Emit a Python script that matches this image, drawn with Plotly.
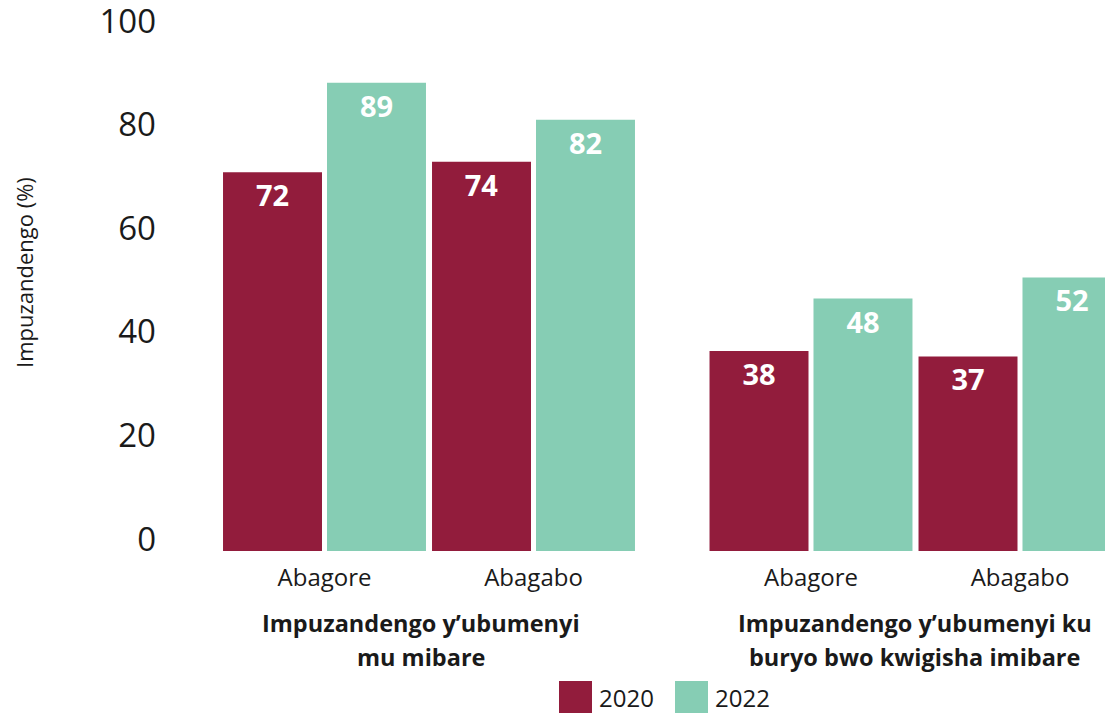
import plotly.graph_objects as go

# ── Data ──────────────────────────────────────────────────────────────────────
categories = ["Abagore", "Abagabo"]
group_titles = [
    ["Impuzandengo y’ubumenyi", "mu mibare"],
    ["Impuzandengo y’ubumenyi ku", "buryo bwo kwigisha imibare"],
]
years = ["2020", "2022"]
scores_2020 = [[72, 74], [38, 37]]
scores_2022 = [[89, 82], [48, 52]]
y_ticks = [0, 20, 40, 60, 80, 100]

# ── Style ─────────────────────────────────────────────────────────────────────
MAROON = "#921C3C"
MINT = "#86CDB4"
INK = "#1a1a1a"
FONT = "Open Sans"
# page body has an 8px margin, so the figure is drawn 8px in from the corner
PAD = 8
FW, FH = 1113 - PAD, 713 - PAD


def px(x):
    # screenshot x pixel -> paper coordinate
    return (x - PAD) / FW


def py(y):
    # screenshot y pixel -> paper coordinate
    return 1 - (y - PAD) / FH


fig = go.Figure()

axes = [("x", "y"), ("x2", "y2")]
for g, (xa, ya) in enumerate(axes):
    for year, vals, colour in [(years[0], scores_2020, MAROON), (years[1], scores_2022, MINT)]:
        fig.add_trace(go.Bar(
            x=categories,
            y=vals[g],
            name=year,
            marker_color=colour,
            marker_line_width=0,
            text=[str(v) for v in vals[g]],
            textposition="inside",
            insidetextanchor="end",
            textfont=dict(family=FONT, size=29, color="white", weight="bold"),
            xaxis=xa, yaxis=ya,
            showlegend=False,
            hovertemplate=year + " · %{x}: %{y}<extra></extra>",
        ))

# invisible helper so the tick-label axis (y3) gets drawn
fig.add_trace(go.Scatter(
    x=categories[:1], y=y_ticks[:1], xaxis="x", yaxis="y3",
    mode="markers", marker=dict(opacity=0), hoverinfo="skip", showlegend=False,
))

bar_dom = [py(551), py(25)]
noaxis = dict(showgrid=False, zeroline=False, showline=False, ticks="",
              automargin=False)

fig.update_layout(
    width=FW, height=FH,
    margin=dict(l=0, r=0, t=0, b=0),
    paper_bgcolor="white",
    plot_bgcolor="rgba(0,0,0,0)",
    barmode="group",
    bargap=0.005,
    bargroupgap=0.048,
    font=dict(family=FONT, color=INK),
    xaxis=dict(domain=[px(220), px(638)], range=[-0.5, 1.5],
               tickfont=dict(size=24, color=INK), ticklabelstandoff=10, **noaxis),
    xaxis2=dict(domain=[px(706.5), 1.0], range=[-0.5, 1.445], anchor="y2",
                tickfont=dict(size=24, color=INK), ticklabelstandoff=10, **noaxis),
    yaxis=dict(domain=bar_dom, range=[0, 100], showticklabels=False, **noaxis),
    yaxis2=dict(domain=bar_dom, range=[0, 100], anchor="x2", matches="y",
                showticklabels=False, **noaxis),
    # tick labels sit slightly above the bar scale in the original:
    # 0 -> y 539px, 100 -> y 21px, carried by a free axis
    yaxis3=dict(domain=[py(551), py(10)],
                range=[(539 - 551) / 5.18, (539 - 10) / 5.18],
                anchor="x", tickvals=y_ticks, ticklabeloverflow="allow",
                tickfont=dict(size=33, color=INK), ticklabelstandoff=63, **noaxis),
)

# y-axis title
fig.add_annotation(
    text="Impuzandengo (%)", textangle=-90,
    xref="paper", yref="paper", x=px(24), y=py(273),
    xanchor="center", yanchor="middle",
    showarrow=False, font=dict(size=22, color=INK),
)

# group titles under each panel
for xa, lines, shift in zip(["x", "x2"], group_titles, [-8, -1]):
    for line, ypix in zip(lines, [623, 657]):
        fig.add_annotation(
            text=f"<b>{line}</b>", xref=xa, yref="paper",
            x=0.5, y=py(ypix), xshift=shift, yanchor="middle",
            showarrow=False, font=dict(size=23.5, color=INK),
        )

# legend: coloured squares with year labels
for year, colour, x0 in [(years[0], MAROON, 559), (years[1], MINT, 675)]:
    fig.add_shape(type="rect", xref="paper", yref="paper",
                  x0=px(x0), x1=px(x0 + 33), y0=py(713), y1=py(681),
                  fillcolor=colour, line_width=0)
    fig.add_annotation(text=year, xref="paper", yref="paper",
                       x=px(x0 + 38), y=py(697), xanchor="left",
                       yanchor="middle", showarrow=False,
                       font=dict(size=24, color=INK))

fig.write_html("out.html")
